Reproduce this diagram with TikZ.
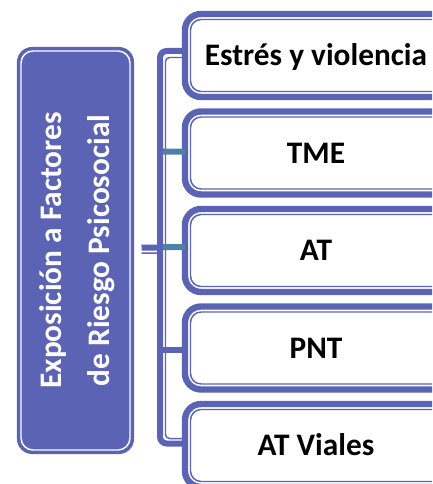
\documentclass[tikz,border=0pt]{standalone}
\usepackage{fontspec}
\setmainfont{Carlito}
\usetikzlibrary{calc}
\definecolor{smblue}{RGB}{91,99,181}
\definecolor{smteal}{RGB}{79,128,166}

\begin{document}
\begin{tikzpicture}[x=0.75pt,y=-0.75pt,
    factorbox/.style={rectangle,anchor=west,rounded corners=12pt,draw=smblue,line width=4.8pt,
      fill=white,outer sep=0pt,inner sep=0pt,minimum width=240pt,minimum height=62.25pt,
      text height=15.2pt,text depth=0pt,execute at begin node=\hspace*{-43.5pt},
      font=\bfseries\fontsize{23.5}{28}\selectfont},
    riskbox/.style={rectangle,rounded corners=11pt,draw=smblue,line width=0.8pt,fill=smblue,
      outer sep=0pt,inner sep=0pt,minimum width=87pt,minimum height=304.5pt,text=white,
      font=\bfseries\fontsize{23.5}{36}\selectfont},
    innerframe/.style={draw=smblue,line width=1.1pt,rounded corners=8pt},
    spine/.style={draw=smblue,line width=4.5pt},
    spinein/.style={draw=smblue,line width=1.1pt},
    stubteal/.style={draw=smteal,line width=4.5pt}]
  \useasboundingbox (0,0) rectangle (432,484);
  \clip (0,0) rectangle (432,484);

  \node[riskbox] (risk) at (75.5,250.5)
    {\rotatebox{90}{\begin{tabular}{@{}c@{}}Exposición a Factores\\de Riesgo Psicosocial\end{tabular}}};
  \draw[white,line width=1.1pt,rounded corners=9pt]
    ([shift={(3.5,3.5)}]risk.north west) rectangle ([shift={(-3.5,-3.5)}]risk.south east);

  \node[factorbox] (estres) at (185,55.5) {Estrés y violencia};
  \node[factorbox] (tme) at (185,153) {TME};
  \node[factorbox] (at) at (185,250.5) {AT};
  \node[factorbox] (pnt) at (185,348) {PNT};
  \node[factorbox] (viales) at (185,445.5) {AT Viales};
  \foreach \f in {estres,tme,at,pnt,viales}
    \draw[innerframe] ([shift={(5.5,5.5)}]\f.north west) rectangle ([shift={(-5.5,-5.5)}]\f.south east);

  \coordinate (spinetop) at (160,51);
  \coordinate (spinebot) at (160,443.5);
  \draw[spine,rounded corners=5pt] ([yshift=3.4pt]estres.west) -- (spinetop) -- (spinebot)
    -- ([yshift=1.5pt]viales.west);
  \draw[spinein,rounded corners=3pt] ([yshift=-1.5pt]estres.west) -- ($(spinetop)+(5.5,6.5)$)
    -- ($(spinebot)+(5.5,-5)$) -- ([yshift=5.2pt]viales.west);
  \draw[stubteal] ($(spinetop |- tme.west)+(3,-1.5)$) -- ([yshift=1.1pt]tme.west);
  \draw[spine] ([shift={(6pt,2.2pt)}]risk.east) -- ($(spinetop |- at.west)+(3,-3)$);
  \draw[spinein] ([shift={(6pt,-2pt)}]risk.east) -- ($(spinetop |- at.west)+(0,2.5)$);
  \draw[stubteal] ($(spinetop |- at.west)+(3,-3.5)$) -- ([yshift=2.6pt]at.west);
  \draw[spine] ($(spinetop |- pnt.west)+(0,2)$) -- ([yshift=-1.5pt]pnt.west);
\end{tikzpicture}
\end{document}
